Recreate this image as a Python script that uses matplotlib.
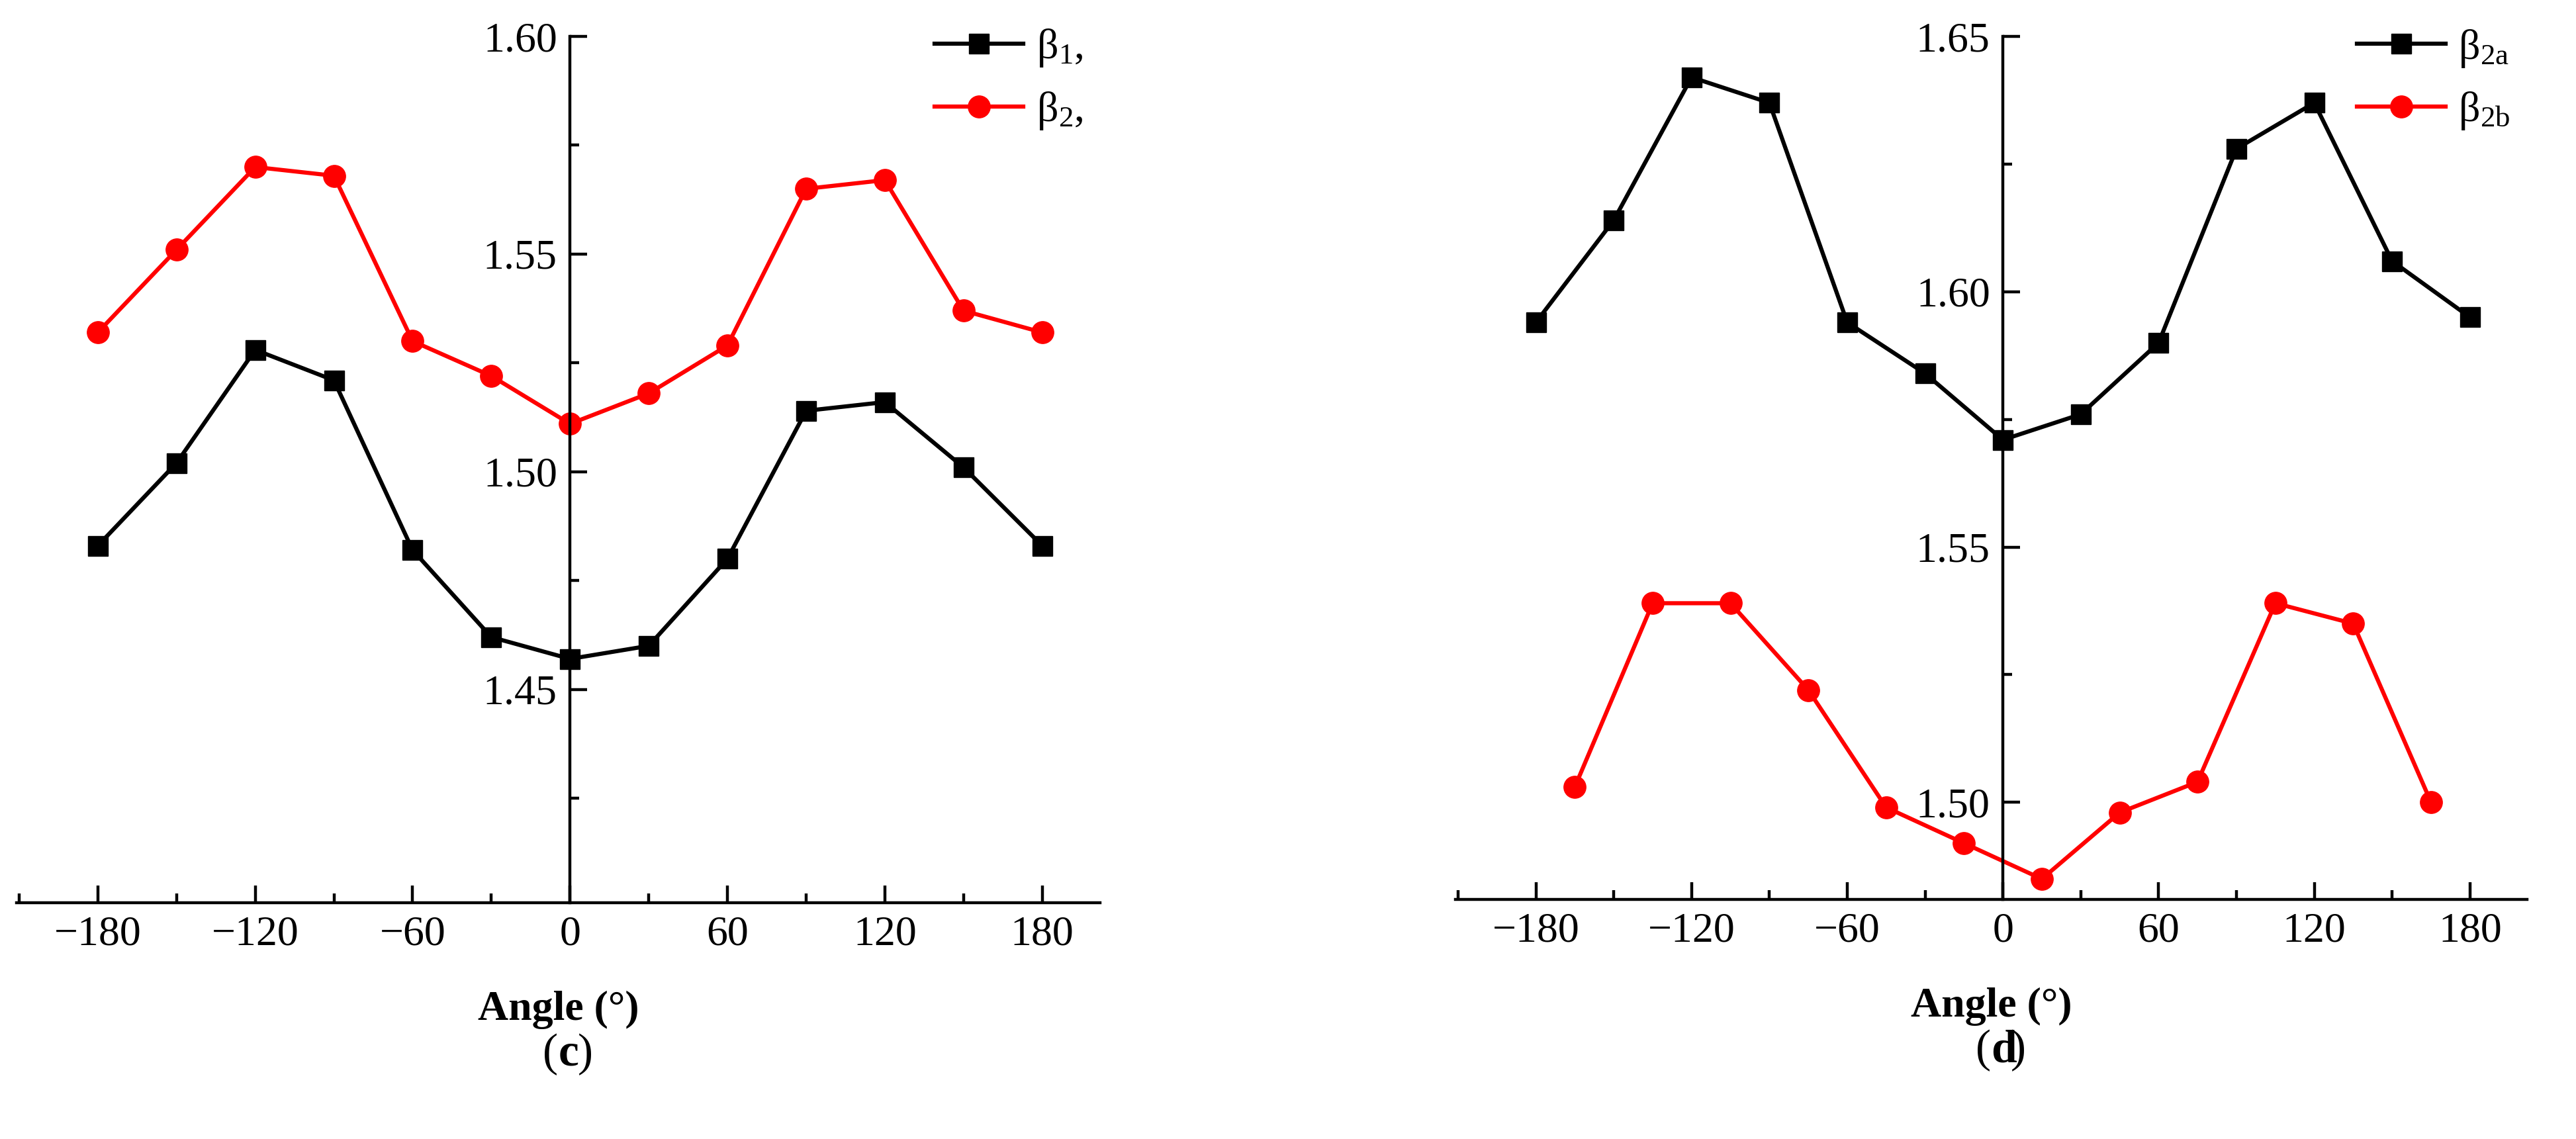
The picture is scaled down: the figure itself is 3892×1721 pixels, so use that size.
import matplotlib.pyplot as plt
from matplotlib.ticker import MultipleLocator

plt.rcParams['font.family'] = ['Liberation Serif', 'DejaVu Serif']
plt.rcParams['mathtext.fontset'] = 'custom'
plt.rcParams['mathtext.rm'] = 'Liberation Serif'
plt.rcParams['mathtext.default'] = 'regular'

# Panel (c)
angles_c = [-180, -150, -120, -90, -60, -30, 0, 30, 60, 90, 120, 150, 180]
beta1 = [1.483, 1.502, 1.528, 1.521, 1.482, 1.462, 1.457, 1.460, 1.480, 1.514, 1.516, 1.501, 1.483]
beta2 = [1.532, 1.551, 1.570, 1.568, 1.530, 1.522, 1.511, 1.518, 1.529, 1.565, 1.567, 1.537, 1.532]

# Panel (d)
angles_d_a = [-180, -150, -120, -90, -60, -30, 0, 30, 60, 90, 120, 150, 180]
beta2a = [1.594, 1.614, 1.642, 1.637, 1.594, 1.584, 1.571, 1.576, 1.590, 1.628, 1.637, 1.606, 1.595]
angles_d_b = [-165, -135, -105, -75, -45, -15, 15, 45, 75, 105, 135, 165]
beta2b = [1.503, 1.539, 1.539, 1.522, 1.499, 1.492, 1.485, 1.498, 1.504, 1.539, 1.535, 1.500]

fig = plt.figure(figsize=(38.92, 17.21), dpi=100)
ax1 = fig.add_axes([0.0064, 0.2075, 0.4206, 0.7605])
ax2 = fig.add_axes([0.565, 0.2104, 0.416, 0.7576])

lw = 4.5
ms = 22
fs = 46


def style(ax, ylim, yticks, letter):
    ax.set_xlim(-211, 202)
    ax.set_ylim(*ylim)
    for s in ['top', 'right']:
        ax.spines[s].set_visible(False)
    ax.spines['left'].set_position(('data', 0))
    for s in ['left', 'bottom']:
        ax.spines[s].set_linewidth(3.2)
    ax.set_xticks([-180, -120, -60, 0, 60, 120, 180])
    ax.set_xticklabels(['\u2212180', '\u2212120', '\u221260', '0', '60', '120', '180'])
    ax.xaxis.set_minor_locator(MultipleLocator(30))
    ax.set_yticks(yticks)
    ax.set_yticklabels(['%.2f' % v for v in yticks])
    ax.yaxis.set_minor_locator(MultipleLocator(0.025))
    ax.tick_params(which='major', direction='in', length=19, width=3.2, labelsize=fs, pad=14)
    ax.tick_params(which='minor', direction='in', length=10, width=3.2)
    ax.set_xlabel('Angle (°)', fontsize=fs, fontweight='bold', labelpad=40)
    ax.text(0.5, -0.175, '(', transform=ax.transAxes, ha='right', va='center', fontsize=fs + 4)
    ax.text(0.5, -0.175, letter, transform=ax.transAxes, ha='left', va='center',
            fontsize=fs + 4, fontweight='bold')
    ax.text(0.5 + 0.018, -0.175, ')', transform=ax.transAxes, ha='left', va='center', fontsize=fs + 4)
    ax.legend(loc='upper right', frameon=False, fontsize=fs, handlelength=2.1,
              borderaxespad=0.0, bbox_to_anchor=(1.0, 1.03), labelspacing=0.5,
              handletextpad=0.3)


ax1.plot(angles_c, beta1, color='black', marker='s', lw=lw, ms=ms, label="β$_1$,")
ax1.plot(angles_c, beta2, color='red', marker='o', lw=lw, ms=ms + 2, label="β$_2$,")
style(ax1, (1.401, 1.60), [1.45, 1.50, 1.55, 1.60], 'c')

ax2.plot(angles_d_a, beta2a, color='black', marker='s', lw=lw, ms=ms, label="β$_{2a}$")
ax2.plot(angles_d_b, beta2b, color='red', marker='o', lw=lw, ms=ms + 2, label="β$_{2b}$")
style(ax2, (1.481, 1.65), [1.50, 1.55, 1.60, 1.65], 'd')

fig.savefig('out.png', dpi=100)
